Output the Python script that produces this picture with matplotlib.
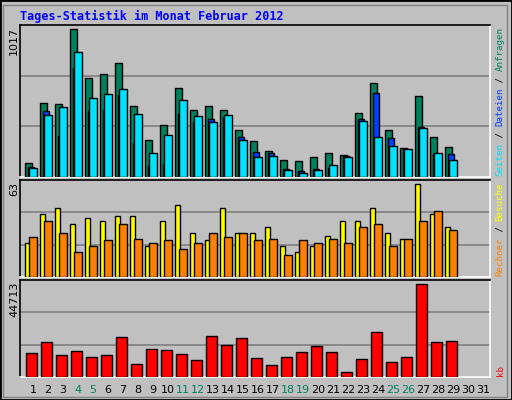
import matplotlib
matplotlib.use("Agg")
import matplotlib.pyplot as plt
from matplotlib.patches import Rectangle

days = list(range(1, 32))
anfragen = [99,506,499,1017,679,706,782,486,251,354,610,458,486,458,320,244,182,120,113,140,168,154,437,644,320,202,555,278,209]
dateien = [71,451,285,748,451,458,561,237,78,92,430,375,396,410,278,175,168,58,44,58,64,147,396,575,265,189,347,161,161]
seiten = [64,423,479,858,541,568,603,430,168,292,527,416,375,423,251,140,147,51,30,51,85,140,382,278,216,189,334,168,120]
besuche = [23,43,47,36,40,38,41,41,21,38,49,30,25,47,30,30,34,21,17,21,28,38,38,47,30,26,63,43,34]
rechner = [27,38,30,17,21,25,36,26,23,25,19,23,30,27,30,25,26,15,25,23,26,23,34,36,21,26,38,45,32]
kb = [11424,16810,10445,12403,9466,10445,19258,6038,13382,12893,10934,7997,19747,15341,18768,8976,5549,9466,11914,14851,11914,2611,8486,21706,7018,9466,44713,16810,17299]
weekend = [4,5,11,12,18,19,25,26]

W, H = 512, 400
fig = plt.figure(figsize=(W/100, H/100), dpi=100)
fig.patch.set_facecolor("#C0C0C0")
fig.patches.append(Rectangle((0, 0), 1, 1, transform=fig.transFigure, fill=False, edgecolor="black", lw=2))
fig.patches.append(Rectangle((3/W, 3/H), (W-8)/W, (H-8)/H, transform=fig.transFigure, fill=False, edgecolor="#808080", lw=1))

def mkax(top, bot):
    ax = fig.add_axes([20/W, 1-bot/H, 470/W, (bot-top)/H])
    ax.set_facecolor("#C0C0C0")
    ax.set_xlim(0.13, 31.46)
    ax.set_xticks([]); ax.set_yticks([])
    for s in ("top", "left"):
        ax.spines[s].set_color("black")
    for s in ("bottom", "right"):
        ax.spines[s].set_color("white")
    for sp in ax.spines.values():
        sp.set_linewidth(1.2)
    return ax

def bars(ax, vals, x0, x1, color):
    x = [d + x0 for d in days[:len(vals)]]
    ax.bar(x, vals, width=x1 - x0, align="edge", color=color, edgecolor="black", linewidth=1, zorder=3)

def grid(ax, top):
    ax.set_ylim(0, top)
    for f in (1/3, 2/3):
        ax.axhline(top*f, color="#808080", lw=1.2, zorder=1)

ax1 = mkax(25, 177)
grid(ax1, max(anfragen)*152/148)
bars(ax1, anfragen, -0.53, -0.05, "#00805C")
bars(ax1, dateien, -0.35, 0.09, "#0040FF")
bars(ax1, seiten, -0.25, 0.24, "#00E0FF")

ax2 = mkax(180, 277)
grid(ax2, max(besuche)*97/93)
bars(ax2, besuche, -0.53, -0.2, "#FFFF00")
bars(ax2, rechner, -0.27, 0.24, "#FF8000")

ax3 = mkax(280, 377)
grid(ax3, max(kb)*97/93)
bars(ax3, kb, -0.47, 0.24, "#FF0000")

for d in days:
    ax3.text(d, -0.13, str(d), transform=ax3.get_xaxis_transform(), ha="center", va="center",
             fontsize=8, family="DejaVu Sans", color="#00805C" if d in weekend else "black")

fig.text(20/W, 1-16/H, "Tages-Statistik im Monat Februar 2012", color="#0000FF",
         fontsize=8.5, fontweight="bold", family="DejaVu Sans Mono", va="center")

for txt, top in (("1017", 25), ("63", 180), ("44713", 280)):
    fig.text(14/W, 1-(top+2)/H, txt, rotation=90, ha="center", va="top", fontsize=8, family="DejaVu Sans")

fs = 6.6
cw = fs * 0.602 * 100 / 72
def rlabel(parts, bottom):
    y = bottom
    for t, c in parts:
        fig.text(500/W, 1-y/H, t, rotation=90, ha="center", va="bottom", color=c,
                 fontsize=fs, family="DejaVu Sans Mono")
        y -= len(t) * cw

rlabel([("Seiten", "#00E0FF"), (" / ", "black"), ("Dateien", "#0040FF"), (" / ", "black"), ("Anfragen", "#00805C")], 176)
rlabel([("Rechner", "#FF8000"), (" / ", "black"), ("Besuche", "#FFFF00")], 276)
rlabel([("kb", "#FF0000")], 376)

fig.savefig("out.png", dpi=100, facecolor=fig.get_facecolor())
